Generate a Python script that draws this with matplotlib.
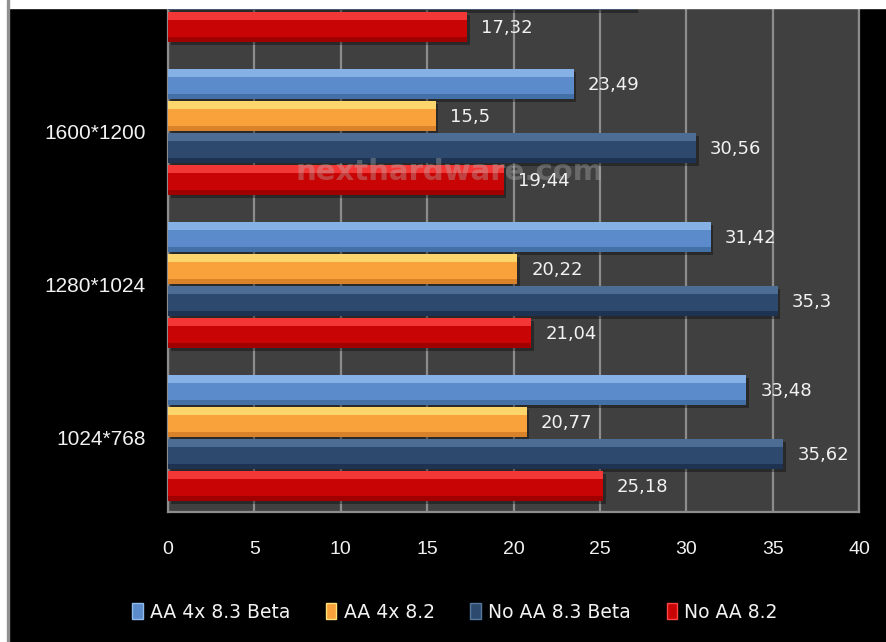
import numpy as np
import matplotlib
matplotlib.use('Agg')
import matplotlib.pyplot as plt
from matplotlib.patches import Patch, Rectangle

# dati (il gruppo in alto e' tagliato dall'immagine)
resolutions = ['1024*768', '1280*1024', '1600*1200', '1920*1200']
series = ['AA 4x 8.3 Beta', 'AA 4x 8.2', 'No AA 8.3 Beta', 'No AA 8.2']
aa4x_83beta = [33.48, 31.42, 23.49, 17.9]
aa4x_82 = [20.77, 20.22, 15.5, 11.6]
noaa_83beta = [35.62, 35.3, 30.56, 27.03]
noaa_82 = [25.18, 21.04, 19.44, 17.32]
values = [aa4x_83beta, aa4x_82, noaa_83beta, noaa_82]
x_ticks = [0, 5, 10, 15, 20, 25, 30, 35, 40]

# colori: base, riflesso in alto, bordo scuro in basso
main_c = ['#5B8BCB', '#F9A23C', '#2D4A6E', '#C80404']
top_c = ['#90BBEE', '#FFE27A', '#56769E', '#FF4545']
bot_c = ['#4470A8', '#D8822A', '#1E3352', '#A00000']

offsets = [0.314, 0.105, -0.105, -0.314]
h = 0.196

fig = plt.figure(figsize=(8.86, 6.42), dpi=100, facecolor='black')
ax = fig.add_axes([168 / 886, 1 - 512 / 642, (859 - 168) / 886, (512 - 8) / 642])
ax.set_facecolor('#404040')

y = np.arange(len(resolutions))
for k in range(4):
    pos = y + offsets[k]
    ax.barh(pos - 0.018, values[k], height=h, left=0.15, color='black', alpha=0.35, zorder=2)
    ax.barh(pos, values[k], height=h, color=main_c[k], zorder=3)
    ax.barh(pos + h * 0.36, values[k], height=h * 0.28, color=top_c[k], alpha=0.8, zorder=4)
    ax.barh(pos - h * 0.42, values[k], height=h * 0.16, color=bot_c[k], zorder=4)
    for yy, v in zip(pos, values[k]):
        ax.annotate(f"{v:g}".replace('.', ','), (v, yy), xytext=(10, -1), textcoords='offset points',
                    va='center', ha='left', color='#F2F2F2', fontsize=13,
                    family=['Liberation Sans Narrow', 'DejaVu Sans'], annotation_clip=True,
                    clip_on=True, zorder=6)

ax.set_xticks(x_ticks)
ax.set_xticklabels([str(t) for t in x_ticks], color='#F2F2F2', fontsize=14,
                   family=['Liberation Sans', 'DejaVu Sans'])
ax.set_yticks(y)
ax.set_yticklabels(resolutions, color='#F2F2F2', fontsize=15, family=['Liberation Sans', 'DejaVu Sans'])
ax.set_xlim(0, 40)
ax.set_ylim(-0.484, 2.81)
ax.tick_params(axis='x', length=0, pad=21)
ax.tick_params(axis='y', length=0, pad=16)
ax.grid(axis='x', color='#8C8C8C', linewidth=1.6, zorder=1)
ax.set_axisbelow(True)
for s in ['left', 'bottom', 'right']:
    ax.spines[s].set_color('#8C8C8C')
    ax.spines[s].set_linewidth(1.6)
ax.spines['top'].set_visible(False)

# watermark
ax.text(16.3, 1.74, 'nexthardware.com', ha='center', va='center',
        fontsize=21, fontweight='bold', color='#B8B8B8', alpha=0.35, zorder=5)

handles = [Patch(facecolor=main_c[k], edgecolor=top_c[k], label=series[k]) for k in range(4)]
leg = fig.legend(handles=handles, loc='center', bbox_to_anchor=(455 / 886, 1 - 612 / 642), ncol=4,
                 frameon=False, handlelength=0.55, handleheight=1.0, handletextpad=0.4,
                 columnspacing=1.9, prop={'family': ['Liberation Sans Narrow', 'DejaVu Sans'], 'size': 13.5})
for t in leg.get_texts():
    t.set_color('#F2F2F2')

# bordi bianchi dell'immagine ritagliata
fig.patches.append(Rectangle((0, 1 - 8 / 642), 1, 8 / 642, transform=fig.transFigure,
                             color='white', zorder=10))
fig.patches.append(Rectangle((0, 0), 7 / 886, 1, transform=fig.transFigure, color='white', zorder=10))
fig.patches.append(Rectangle((7 / 886, 0), 1.5 / 886, 1, transform=fig.transFigure,
                             color='#909090', zorder=10))

fig.savefig('out.png', dpi=100, facecolor='black')
